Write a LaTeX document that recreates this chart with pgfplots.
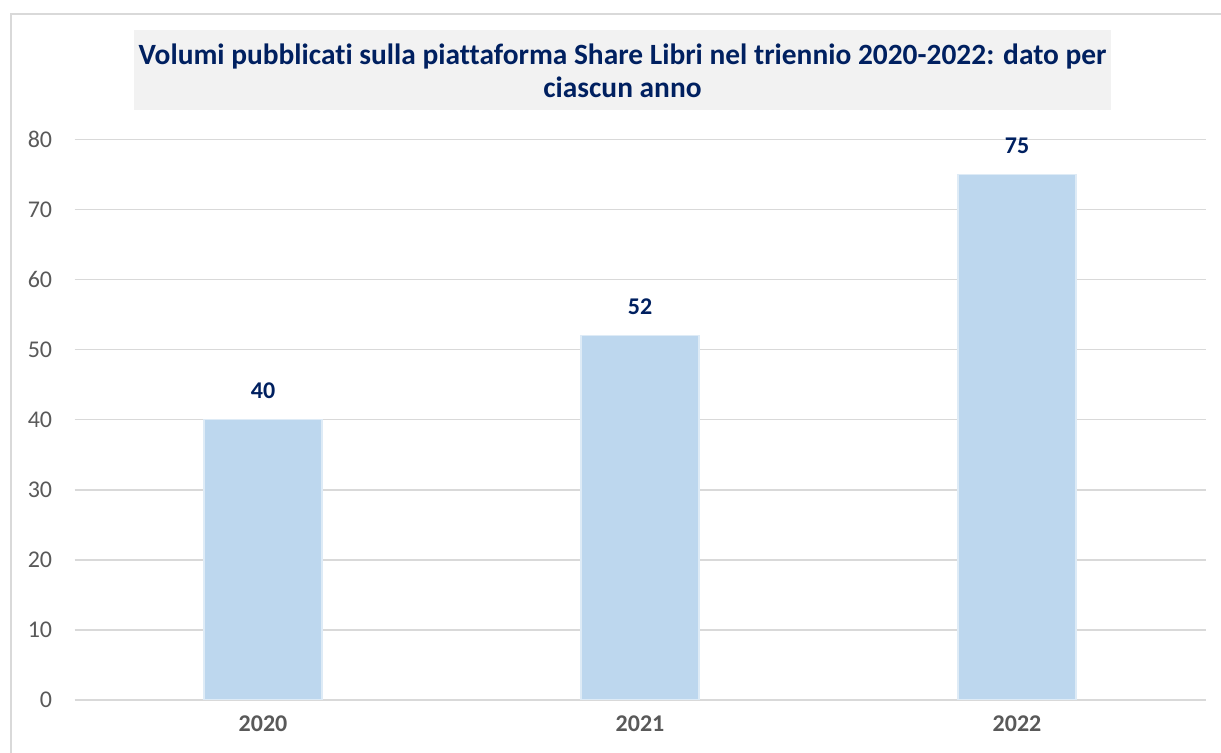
\documentclass[border=0pt]{standalone}
\usepackage{pgfplots}
\pgfplotsset{compat=1.18}
\usepackage{fontspec}
\setmainfont{Carlito}[Ligatures=NoCommon]
\definecolor{navy}{HTML}{002060}
\definecolor{barblue}{HTML}{BDD7EE}
\definecolor{gridgray}{HTML}{D9D9D9}
\definecolor{ticktext}{HTML}{595959}
\definecolor{titlebg}{HTML}{F2F2F2}
\begin{document}
\begin{tikzpicture}[x=0.5pt,y=0.5pt]
\useasboundingbox (0,0) rectangle (1221,753);
\draw[gridgray,line width=0.9pt] (11,-5) -- (11,739) -- (1230,739);
\fill[titlebg] (134,643) rectangle (1111,723);
\node[font=\fontsize{14.7}{16.8}\selectfont\bfseries, text=navy, align=center, inner sep=0pt] at (622.5,682) {Volumi pubblicati sulla piattaforma Share Libri nel triennio 2020-2022: dato per\\ciascun anno};
\begin{axis}[
  at={(37.25pt,26.5pt)}, anchor=south west,
  scale only axis, width=565.5pt, height=280.25pt,
  xmin=-0.5, xmax=2.5, ymin=0, ymax=80,
  ytick={0,10,...,80}, xtick={0,1,2}, xticklabels={2020,2021,2022},
  axis line style={draw=none}, major tick length=0pt,
  ymajorgrids, grid style={gridgray, line width=0.75pt},
  /pgf/number format/assume math mode=true,
  yticklabel style={font=\fontsize{12}{14}\selectfont, text=ticktext, inner sep=0pt, anchor=east, xshift=-11pt},
  xticklabel style={font=\fontsize{12}{14}\selectfont\bfseries, text=ticktext, inner sep=0pt, anchor=north, yshift=-7.5pt},
  ybar, bar width=59pt,
  nodes near coords,
  every node near coord/.append style={font=\fontsize{12}{14}\selectfont\bfseries, text=navy, inner sep=0pt, anchor=south, yshift=10pt},
]
\addplot[fill=barblue, draw=barblue!50!white, line width=0.6pt] coordinates {(0,40) (1,52) (2,75)};
\end{axis}
\end{tikzpicture}
\end{document}
